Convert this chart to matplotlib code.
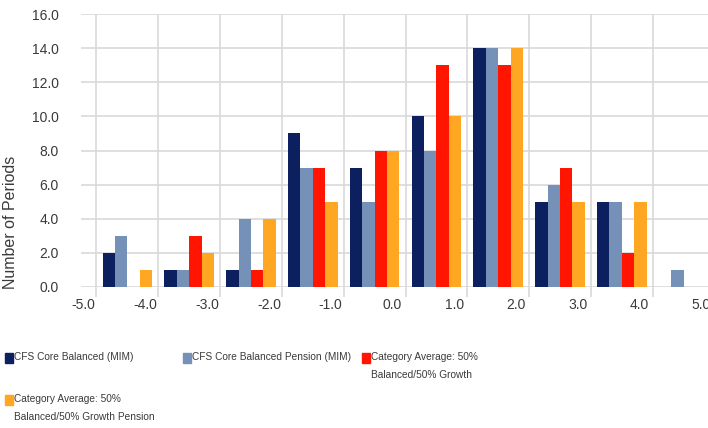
import matplotlib
matplotlib.use("Agg")
import matplotlib.pyplot as plt
import matplotlib.transforms as mtransforms
from matplotlib.patches import Rectangle
import numpy as np

# Data
bin_centers = [-4.5, -3.5, -2.5, -1.5, -0.5, 0.5, 1.5, 2.5, 3.5, 4.5]
series_names = [
    "CFS Core Balanced (MIM)",
    "CFS Core Balanced Pension (MIM)",
    "Category Average: 50%\nBalanced/50% Growth",
    "Category Average: 50%\nBalanced/50% Growth Pension",
]
core_balanced = [2, 1, 1, 9, 7, 10, 14, 5, 5, 0]
core_balanced_pension = [3, 1, 4, 7, 5, 8, 14, 6, 5, 1]
cat_avg = [0, 3, 1, 7, 8, 13, 13, 7, 2, 0]
cat_avg_pension = [1, 2, 4, 5, 8, 10, 14, 5, 5, 0]
x_ticks = [-5.0, -4.0, -3.0, -2.0, -1.0, 0.0, 1.0, 2.0, 3.0, 4.0, 5.0]
y_ticks = [0, 2, 4, 6, 8, 10, 12, 14, 16]

colors = ["#0C1F5E", "#7591B8", "#FF1500", "#FFA722"]
GRID = "#D9D9D9"
TEXT = "#3A3A3A"

plt.rcParams["font.family"] = ["Liberation Sans", "DejaVu Sans"]

W, H = 708, 428
fig = plt.figure(figsize=(W / 100, H / 100), dpi=100)
ax = fig.add_axes([81 / W, 141 / H, 649 / W, 273 / H])

bar_w = 0.2
all_series = [core_balanced, core_balanced_pension, cat_avg, cat_avg_pension]
x = np.array(bin_centers)
for i, (vals, c) in enumerate(zip(all_series, colors)):
    ax.bar(x + (i - 1.5) * bar_w, vals, width=bar_w, color=c, zorder=3)

ax.set_xlim(-5.25, 5.25)
ax.set_ylim(0, 16)
ax.set_xticks(x_ticks)
ax.set_xticklabels([f"{v:.1f}" for v in x_ticks])
ax.set_yticks(y_ticks)
ax.set_yticklabels([f"{v:.1f}" for v in y_ticks])

ax.grid(True, color=GRID, linewidth=1.2, zorder=0)
ax.set_axisbelow(True)
for s in ax.spines.values():
    s.set_visible(False)

ax.tick_params(axis="y", length=0, pad=16, labelsize=10, labelcolor=TEXT)
ax.tick_params(axis="x", length=7, width=1.2, color=GRID, pad=1,
               labelsize=10, labelcolor=TEXT)

# x tick labels sit a little left of their gridlines in the original
offset = mtransforms.ScaledTranslation(-13 / 100, 0, fig.dpi_scale_trans)
for lab in ax.get_xticklabels():
    lab.set_transform(lab.get_transform() + offset)

ax.set_ylabel("Number of Periods", fontsize=11.5, color=TEXT)
ax.yaxis.set_label_coords(-0.097, 0.238)

# Legend drawn manually (row-major layout)
leg_pos = [(5, 358), (183, 358), (362, 358), (5, 400)]
for name, c, (px, py) in zip(series_names, colors, leg_pos):
    fig.add_artist(Rectangle((px / W, (H - py - 5) / H), 8 / W, 10 / H,
                             transform=fig.transFigure, color=c))
    fig.text((px + 9) / W, (H - py + 6) / H, name, fontsize=7.3, color=TEXT,
             va="top", linespacing=2.0)

fig.savefig("out.png", dpi=100)
